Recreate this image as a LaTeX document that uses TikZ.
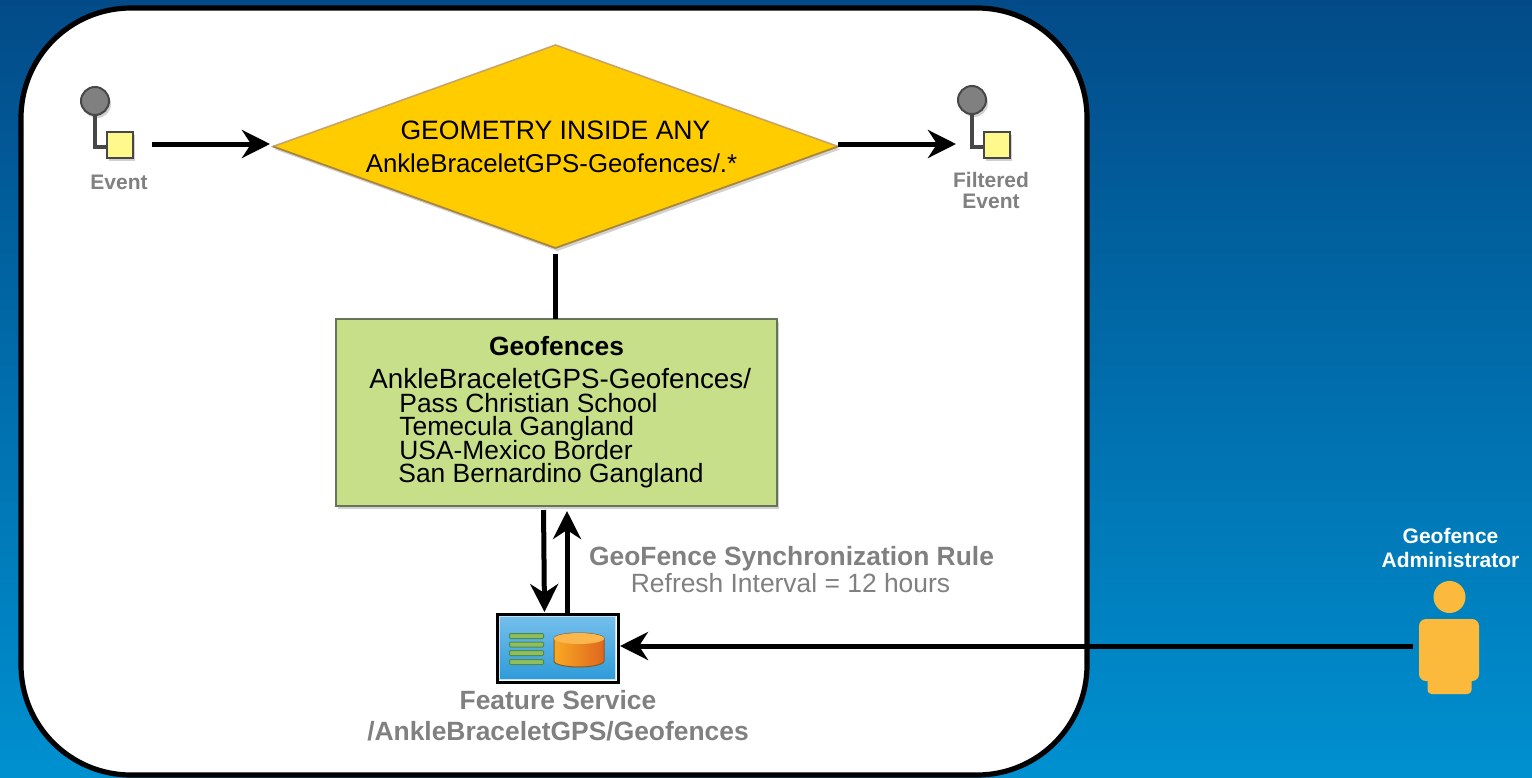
\documentclass[tikz,border=0pt]{standalone}
\usepackage{fontspec}
\setmainfont{Liberation Sans}
\usetikzlibrary{shapes.geometric, positioning, arrows.meta, shadows}
\setlength{\lineskiplimit}{-20pt}
\setlength{\normallineskiplimit}{-20pt}
\definecolor{bgtop}{HTML}{024B88}
\definecolor{bgmid}{HTML}{0070B4}
\definecolor{bgbot}{HTML}{0090D0}
\definecolor{labelgrey}{HTML}{808080}
\definecolor{gold}{HTML}{FFCC00}
\definecolor{goldedge}{HTML}{C8A468}
\definecolor{golddeep}{HTML}{A98636}
\definecolor{fencegreen}{HTML}{C6DF88}
\definecolor{fenceedge}{HTML}{66745A}
\definecolor{persongold}{HTML}{FCBA3C}
\definecolor{iconlight}{HTML}{74BFEC}
\definecolor{icondeep}{HTML}{2E9BD9}
\definecolor{iconedge}{HTML}{C4E2F4}
\definecolor{dbgreen}{HTML}{8FBE5C}
\definecolor{dbgreenedge}{HTML}{4E8A4A}
\definecolor{cylleft}{HTML}{F9A922}
\definecolor{cylright}{HTML}{E0661E}
\definecolor{cyltop}{HTML}{FBB64C}
\definecolor{cyledge}{HTML}{8A5A20}
\tikzstyle{softshadow} = [drop shadow={shadow xshift=1pt,shadow yshift=-1.5pt,fill=black,opacity=.18}]
\tikzstyle{arrow} = [line width=2.5pt,-{Stealth[length=14pt,width=14pt,inset=4.5pt]}]
\tikzstyle{plainline} = [line width=2.5pt]
\tikzstyle{eventball} = [circle,draw=black!72,fill=black!50,line width=1pt,minimum size=14pt,inner sep=0pt,outer sep=0pt,softshadow]
\tikzstyle{eventbox} = [rectangle,draw=black!72,fill=yellow!45,line width=1pt,minimum size=13pt,inner sep=0pt,outer sep=0pt,softshadow]
\tikzstyle{eventlink} = [draw=black!72,line width=2pt]
\tikzstyle{greylabel} = [text=labelgrey,font=\fontsize{10.5}{10.5}\selectfont\bfseries,align=center,inner sep=0pt]
\tikzstyle{biglabel} = [text=labelgrey,font=\fontsize{13.2}{15.5}\selectfont,align=center,inner sep=0pt]
\tikzstyle{dbline} = [rectangle,draw=dbgreenedge,fill=dbgreen,line width=.5pt,minimum width=17pt,minimum height=2.5pt,inner sep=0pt,rounded corners=.5pt]
\tikzstyle{persongoldfill} = [fill=persongold,draw=none,inner sep=0pt,outer sep=0pt]

\begin{document}
\begin{tikzpicture}[x=0.5pt,y=-0.5pt]
        \useasboundingbox (0, 0) rectangle (1532, 777);
        \shade[top color=bgtop, middle color=bgmid, bottom color=bgbot] (0, 0) rectangle (1532, 777);
        \draw[fill=white, line width=2.6pt, rounded corners=55pt] (21, 8) rectangle (1087, 775);

        \node[diamond, draw=goldedge, fill=gold, line width=.8pt, aspect=2.78, minimum width=282.5pt, minimum height=101.5pt, inner sep=0pt, outer sep=0pt, align=center, font=\fontsize{13.3}{16}\selectfont, softshadow] (diamond) at (555.5, 146.5) {GEOMETRY INSIDE ANY\\[.5pt]\fontsize{12.9}{16}\selectfont AnkleBraceletGPS-Geofences/.*\hspace*{4pt}};
        \draw[golddeep, line width=.8pt] (diamond.west) -- (diamond.south) -- (diamond.east);

        \node[eventball] (eventball) at (95, 101) {};
        \node[eventbox] (eventbox) at (120, 145) {};
        \draw[eventlink] (eventball.south) |- ([yshift=-1pt]eventbox.west);
        \node[greylabel] (eventlabel) at (119, 182) {Event};

        \node[eventball] (filteredball) at (972, 100) {};
        \node[eventbox] (filteredbox) at (997, 144.5) {};
        \draw[eventlink] (filteredball.south) |- ([yshift=-1pt]filteredbox.west);
        \node[greylabel] (filteredlabel) at (991, 190) {Filtered\\Event};

        \node[rectangle, draw=fenceedge, fill=fencegreen, line width=.8pt, minimum width=220.5pt, minimum height=93.5pt, outer sep=0pt, softshadow] (geofences) at (556.5, 412.5) {};
        \node[font=\fontsize{13.2}{15}\selectfont\bfseries, inner sep=0pt] (geotitle) at (556.5, 346) {Geofences};
        \node[font=\fontsize{13.2}{11.75}\selectfont, align=left, anchor=north west, inner sep=0pt] (geolist) at (369, 368) {\fontsize{13.9}{11.75}\selectfont AnkleBraceletGPS-Geofences/\\\hspace*{15pt}Pass Christian School\\\hspace*{15pt}Temecula Gangland\\\hspace*{15pt}USA-Mexico Border\\\hspace*{14.5pt}San Bernardino Gangland};

        \node[rectangle, draw=black, line width=1.5pt, minimum width=60.5pt, minimum height=34pt, inner sep=0pt, outer sep=0pt] (service) at (557.5, 648) {};
        \shade[draw=iconedge, line width=.8pt, top color=iconlight, bottom color=icondeep] ([shift={(1.2pt,-1.2pt)}]service.north west) rectangle ([shift={(-1.2pt,1.2pt)}]service.south east);
        \foreach \y in {636, 644.5, 653, 662} {
            \node[dbline] at (526.5, \y) {};
        }
        \draw[draw=cyledge, left color=cylleft, middle color=cylleft, right color=cylright, line width=.5pt] (554, 638.5) -- (554, 661) arc[start angle=180, end angle=360, x radius=12.5pt, y radius=3pt] -- (604, 638.5) arc[start angle=0, end angle=180, x radius=12.5pt, y radius=2.75pt] -- cycle;
        \fill[cyltop] (579, 638.5) ellipse[x radius=12.5pt, y radius=2.75pt];

        \node[biglabel, font=\fontsize{13.2}{15.5}\selectfont\bfseries] (servicelabel) at (558, 715.5) {Feature Service\\/AnkleBraceletGPS/Geofences};
        \node[biglabel, font=\fontsize{13.2}{15.5}\selectfont\bfseries] (syncrule) at (791.5, 558.5) {GeoFence Synchronization Rule};
        \node[biglabel] (syncinterval) at (790.5, 583) {Refresh Interval = 12 hours};

        \node[circle, persongoldfill, minimum size=16pt] (adminhead) at (1449.5, 597) {};
        \node[rectangle, persongoldfill, rounded corners=2pt, minimum width=22pt, minimum height=9pt] (adminfoot) at (1449.5, 685) {};
        \node[rectangle, persongoldfill, rounded corners=3.5pt, minimum width=30pt, minimum height=31pt] (adminbody) at (1449, 650) {};
        \node[greylabel, text=white, font=\fontsize{10.5}{12}\selectfont\bfseries] (adminlabel) at (1450.5, 548) {Geofence\\Administrator};

        \draw[arrow, shorten <=9.5pt, shorten >=1.5pt] ([yshift=.5pt]eventbox.east) -- ([yshift=1.25pt]diamond.west);
        \draw[arrow, shorten >=14pt] ([yshift=1.25pt]diamond.east) -- ([yshift=.25pt]filteredbox.west);
        \draw[plainline, shorten <=3pt] (diamond.south) -- (diamond.south |- geofences.north);
        \draw[arrow, shorten <=2pt, shorten >=1pt] ([xshift=-6.5pt]geofences.south) -- ([xshift=-6.5pt]service.north);
        \draw[arrow, shorten >=2.5pt] ([xshift=4.75pt]service.north) -- ([xshift=5.25pt]geofences.south);
        \draw[arrow, shorten <=3pt, shorten >=1pt] ([yshift=2pt]adminbody.west) -- ([yshift=1pt]service.east);
\end{tikzpicture}
\end{document}
